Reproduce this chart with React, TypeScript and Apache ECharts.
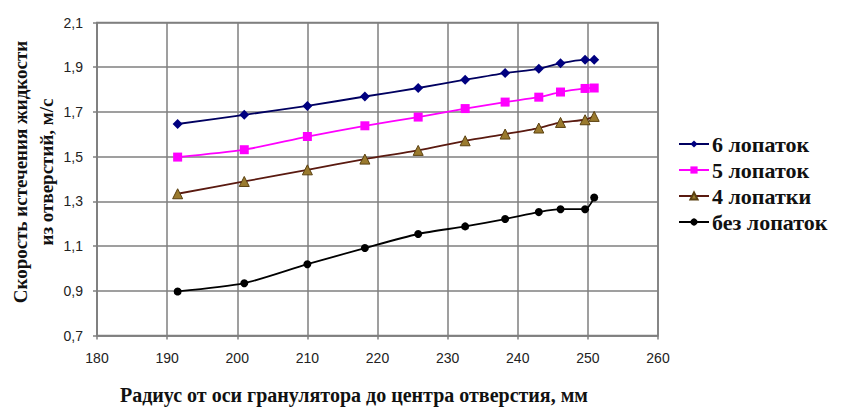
import React, { useEffect, useRef } from "react";
import * as echarts from "echarts";

const xValues = [191.5, 201, 210, 218.2, 225.8, 232.5, 238.2, 243, 246.1, 249.6, 250.9];
const sixBlades = [1.646, 1.687, 1.727, 1.769, 1.807, 1.844, 1.874, 1.893, 1.918, 1.933, 1.933];
const fiveBlades = [1.498, 1.531, 1.59, 1.638, 1.677, 1.715, 1.744, 1.766, 1.789, 1.805, 1.807];
const fourBlades = [1.334, 1.389, 1.441, 1.489, 1.528, 1.571, 1.601, 1.628, 1.653, 1.665, 1.68];
const noBlades = [0.897, 0.934, 1.019, 1.091, 1.154, 1.188, 1.221, 1.252, 1.265, 1.265, 1.317];
const seriesNames = ["6 лопаток", "5 лопаток", "4 лопатки", "без лопаток"];
const xTitle = "Радиус от оси гранулятора до центра отверстия, мм";
const yTitle = "Скорость истечения жидкости\nиз отверстий, м/с";

const pair = (ys: number[]) => xValues.map((x, i) => [x, ys[i]]);

export default function App() {
  const ref = useRef<HTMLDivElement>(null);
  useEffect(() => {
    if (!ref.current) return;
    const chart = echarts.init(ref.current, null, { renderer: "svg" });
    const serif = "Liberation Serif";
    const sans = "Liberation Sans";
    const lineBase = (name: string, data: number[][], color: string, lineColor: string, symbol: string, size: number, border?: string) => ({
      name,
      type: "line",
      data,
      smooth: 0.25,
      symbol,
      symbolSize: size,
      lineStyle: { color: lineColor, width: 1.8 },
      itemStyle: { color, borderColor: border || color, borderWidth: border ? 1 : 0 },
      z: 3,
    });
    chart.setOption({
      animation: false,
      backgroundColor: "#ffffff",
      grid: { left: 97, right: 195, top: 22.5, bottom: 72.5, show: false },
      xAxis: {
        type: "value",
        min: 180,
        max: 260,
        interval: 10,
        axisLine: { show: true, lineStyle: { color: "#7f7f7f", width: 1.5 } },
        axisTick: { show: true, length: 4, lineStyle: { color: "#7f7f7f", width: 1.5 } },
        splitLine: { show: true, lineStyle: { color: "#7f7f7f", width: 1.5 } },
        axisLabel: { color: "#222", fontFamily: sans, fontSize: 14, margin: 15 },
      },
      yAxis: {
        type: "value",
        min: 0.7,
        max: 2.1,
        interval: 0.2,
        axisLine: { show: true, lineStyle: { color: "#7f7f7f", width: 1.5 } },
        axisTick: { show: true, length: 4, lineStyle: { color: "#7f7f7f", width: 1.5 } },
        splitLine: { show: true, lineStyle: { color: "#7f7f7f", width: 1.5 } },
        axisLabel: {
          color: "#222",
          fontFamily: sans,
          fontSize: 14,
          margin: 14,
          formatter: (v: number) => v.toFixed(1).replace(".", ","),
        },
      },
      legend: {
        orient: "vertical",
        left: 673,
        top: 128,
        itemWidth: 30,
        itemHeight: 9,
        itemGap: 4,
        textStyle: { fontFamily: serif, fontWeight: "bold", fontSize: 22, color: "#111", padding: [0, 0, 0, -2] },
        data: seriesNames,
      },
      graphic: [
        {
          type: "rect",
          shape: { x: 97, y: 22.5, width: 561, height: 313 },
          style: { fill: "none", stroke: "#7f7f7f", lineWidth: 1.5 },
          silent: true,
          z: 1,
        },
        {
          type: "text",
          x: 120,
          y: 395,
          style: { text: xTitle, fontFamily: serif, fontWeight: "bold", fontSize: 20, fill: "#111", verticalAlign: "middle", align: "left" },
        },
        {
          type: "text",
          x: 33,
          y: 172,
          rotation: Math.PI / 2,
          style: {
            text: yTitle,
            fontFamily: serif,
            fontWeight: "bold",
            fontSize: 19,
            fill: "#111",
            align: "center",
            verticalAlign: "middle",
            lineHeight: 26,
          },
        },
      ],
      series: [
        lineBase(seriesNames[0], pair(sixBlades), "#000080", "#000060", "diamond", 10),
        lineBase(seriesNames[1], pair(fiveBlades), "#ff00ff", "#ff00ff", "rect", 9),
        lineBase(seriesNames[2], pair(fourBlades), "#9a7a2e", "#5a1a10", "triangle", 10, "#5a4010"),
        lineBase(seriesNames[3], pair(noBlades), "#000000", "#000000", "circle", 8),
      ],
    });
    return () => chart.dispose();
  }, []);
  return <div ref={ref} style={{ position: "fixed", left: 0, top: 0, width: 853, height: 408 }} />;
}
